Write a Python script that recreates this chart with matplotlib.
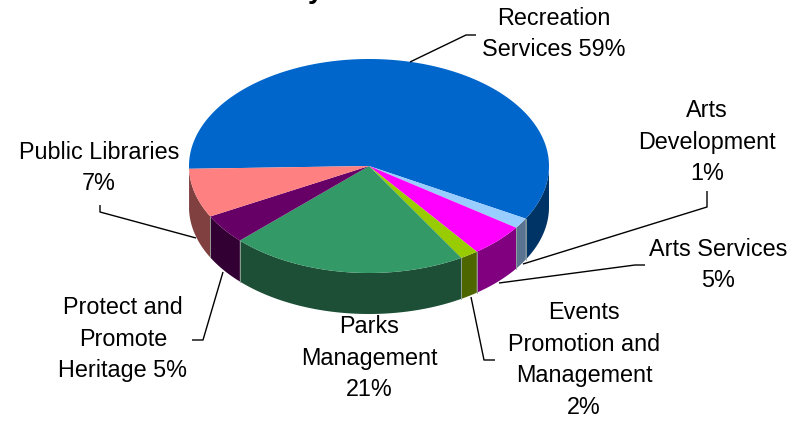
import numpy as np
from matplotlib import pyplot as plt
from matplotlib.patches import Polygon

shares = [58.6, 1.6, 5.0, 1.65, 21.3, 4.45, 7.4]
top_colors = ['#0066CC', '#99CCFF', '#FF00FF', '#99CC00', '#339966', '#660066', '#FF8080']
side_colors = ['#003366', '#5A7390', '#800080', '#4D6600', '#1C4F36', '#330033', '#804040']

labels = ['Recreation\nServices 59%', 'Arts\nDevelopment\n1%', 'Arts Services\n5%',
          'Events\nPromotion and\nManagement\n2%', 'Parks\nManagement\n21%',
          'Protect and\nPromote\nHeritage 5%', 'Public Libraries\n7%']
label_pos = [(554, 34), (707, 142), (718, 265), (584, 360), (369, 358), (123, 339), (99, 168)]

# leader lines, in pixels
leaders = [
    [(410, 62), (466, 35), (476, 35)],
    [(523, 264), (707, 207), (707, 191)],
    [(499, 283), (635, 265), (645, 265)],
    [(471, 297), (484, 360), (495, 360)],
    [(223, 272), (203, 340), (192, 340)],
    [(196, 238), (100, 212), (100, 205)],
]

cx, cy = 369, 166
rx, ry = 180, 107
depth = 41
start_angle = 181.5

plt.rcParams['font.family'] = ['Liberation Sans', 'DejaVu Sans']

fig = plt.figure(figsize=(7.97, 4.21), dpi=100)
ax = fig.add_axes([0, 0, 1, 1])
ax.set_xlim(0, 797)
ax.set_ylim(421, 0)
ax.axis('off')


def rim(a0, a1, n=60):
    t = np.radians(np.linspace(a0, a1, n))
    return np.column_stack([cx + rx * np.cos(t), cy - ry * np.sin(t)])


def wall(a0, a1, color):
    pts = rim(a0, a1)
    side = np.vstack([pts, pts[::-1] + [0, depth]])
    ax.add_patch(Polygon(side, closed=True, facecolor=color, edgecolor='none', zorder=2))
    return pts


# slice boundaries, going clockwise
edges = start_angle - np.cumsum([0] + shares) * 3.6

# sides first, only the part of each slice facing the viewer (0 to -180 degrees)
for i in range(len(shares)):
    hi = min(edges[i], 0)
    pts = wall(hi, edges[i + 1], side_colors[i])
    if i > 0:
        ax.plot([pts[0, 0]] * 2, [pts[0, 1], pts[0, 1] + depth], color='#9AA89F', lw=0.6, zorder=2.5)

# the last slice wraps just past the left end of the pie
wall(edges[-1], -180, side_colors[-1])

# top faces
for i in range(len(shares)):
    top = np.vstack([[cx, cy], rim(edges[i], edges[i + 1], 200)])
    ax.add_patch(Polygon(top, closed=True, facecolor=top_colors[i], edgecolor='none', zorder=3))

for line in leaders:
    xs, ys = zip(*line)
    ax.plot(xs, ys, color='black', lw=1.0, zorder=4, solid_capstyle='butt')

for text, (x, y) in zip(labels, label_pos):
    ax.text(x, y, text, ha='center', va='center', fontsize=16.8, linespacing=1.48,
            color='black', zorder=5)

# the title is cut off by the top edge, only a descender shows
ax.text(316, -2, 'y', ha='center', va='baseline', fontsize=20, fontweight='bold', color='black')

fig.savefig('out.png', dpi=100)
